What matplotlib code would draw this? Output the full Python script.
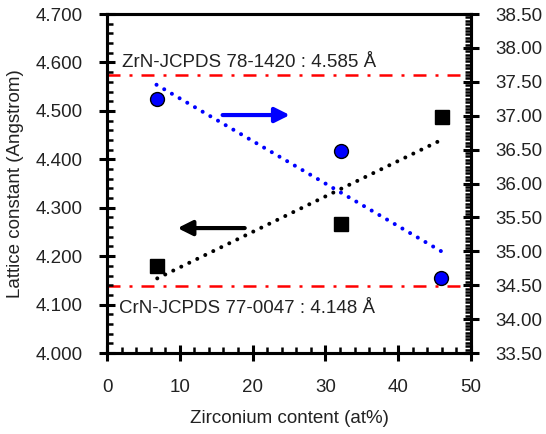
import matplotlib
matplotlib.use('Agg')
import matplotlib.pyplot as plt
import numpy as np
from matplotlib.ticker import MultipleLocator, FormatStrFormatter

plt.rcParams['font.family'] = ['Liberation Sans', 'DejaVu Sans']

# Data
zr_content = [6.9, 32.2, 46.0]           # Zirconium content (at%)
lattice = [4.180, 4.266, 4.488]          # Lattice constant (Angstrom), left axis
zr_content_b = [6.8, 32.2, 45.9]
two_theta = [37.24, 36.48, 34.60]        # right axis values
zrn_ref = 4.575
crn_ref = 4.139
zrn_label = 'ZrN-JCPDS 78-1420 : 4.585 Å'
crn_label = 'CrN-JCPDS 77-0047 : 4.148 Å'

fig = plt.figure(figsize=(5.46, 4.34), dpi=100)
ax1 = fig.add_axes([0.196, 0.1866, 0.6666, 0.7811])
ax2 = ax1.twinx()

fs = 13.5

# reference lines
dashdot = (0, (5.2, 3.6, 1.2, 3.6))
ax1.axhline(zrn_ref, color='#ff0000', lw=1.8, linestyle=dashdot, zorder=1)
ax1.axhline(crn_ref, color='#ff0000', lw=1.8, linestyle=dashdot, zorder=1)

# trend lines
dots = (0, (0.01, 2.2))
p1 = np.polyfit(zr_content, lattice, 1)
xs1 = np.array([zr_content[0], zr_content[-1]])
ax1.plot(xs1, np.polyval(p1, xs1), color='black', lw=2.9,
         linestyle=dots, dash_capstyle='round', zorder=2)
p2 = np.polyfit(zr_content_b, two_theta, 1)
xs2 = np.array([zr_content_b[0], zr_content_b[-1]])
ax2.plot(xs2, np.polyval(p2, xs2), color='#0000ff', lw=2.9,
         linestyle=dots, dash_capstyle='round', zorder=2)

# markers
ax1.plot(zr_content, lattice, 's', color='black', markersize=10, zorder=3)
ax2.plot(zr_content_b, two_theta, 'o', markerfacecolor='#0000ff',
         markeredgecolor='black', markeredgewidth=1.0, markersize=10, zorder=3)

# arrows
ax1.annotate('', xy=(9.3, 4.258), xytext=(19.3, 4.258),
             arrowprops=dict(arrowstyle='-|>', color='black', lw=3, mutation_scale=22))
ax2.annotate('', xy=(25.5, 37.01), xytext=(15.5, 37.01),
             arrowprops=dict(arrowstyle='-|>', color='#0000ff', lw=3, mutation_scale=22))

# labels for reference lines
ax1.text(2.06, 4.590, zrn_label, fontsize=fs, color='#222222', va='baseline', ha='left')
ax1.text(1.65, 4.083, crn_label, fontsize=fs, color='#222222', va='baseline', ha='left')

# axes
ax1.set_xlim(0, 50)
ax1.set_ylim(4.0, 4.7)
ax2.set_ylim(33.5, 38.5)

ax1.xaxis.set_major_locator(MultipleLocator(10))
ax1.xaxis.set_minor_locator(MultipleLocator(2))
ax1.yaxis.set_major_locator(MultipleLocator(0.1))
ax1.yaxis.set_minor_locator(MultipleLocator(0.02))
ax1.yaxis.set_major_formatter(FormatStrFormatter('%.3f'))
ax2.yaxis.set_major_locator(MultipleLocator(0.5))
ax2.yaxis.set_minor_locator(MultipleLocator(0.05))
ax2.yaxis.set_major_formatter(FormatStrFormatter('%.2f'))

for ax in (ax1, ax2):
    for s in ax.spines.values():
        s.set_linewidth(2.2)
ax1.tick_params(axis='both', which='major', direction='inout', length=11, width=2.2,
                labelsize=fs, pad=12, top=False, right=False)
ax1.tick_params(axis='both', which='minor', direction='in', length=4.5, width=1.8,
                top=False, right=False)
ax1.tick_params(axis='x', which='major', pad=13)
ax2.tick_params(axis='y', which='major', direction='inout', length=11, width=2.2,
                labelsize=fs, pad=12)
ax2.tick_params(axis='y', which='minor', direction='in', length=4.5, width=1.8)

for lab in ax1.get_xticklabels() + ax1.get_yticklabels() + ax2.get_yticklabels():
    lab.set_color('#222222')

ax1.set_xlabel('Zirconium content (at%)', fontsize=fs, color='#222222', labelpad=10)
ax1.set_ylabel('Lattice constant (Angstrom)', fontsize=fs, color='#222222', labelpad=8)

fig.savefig('out.png', dpi=100)
